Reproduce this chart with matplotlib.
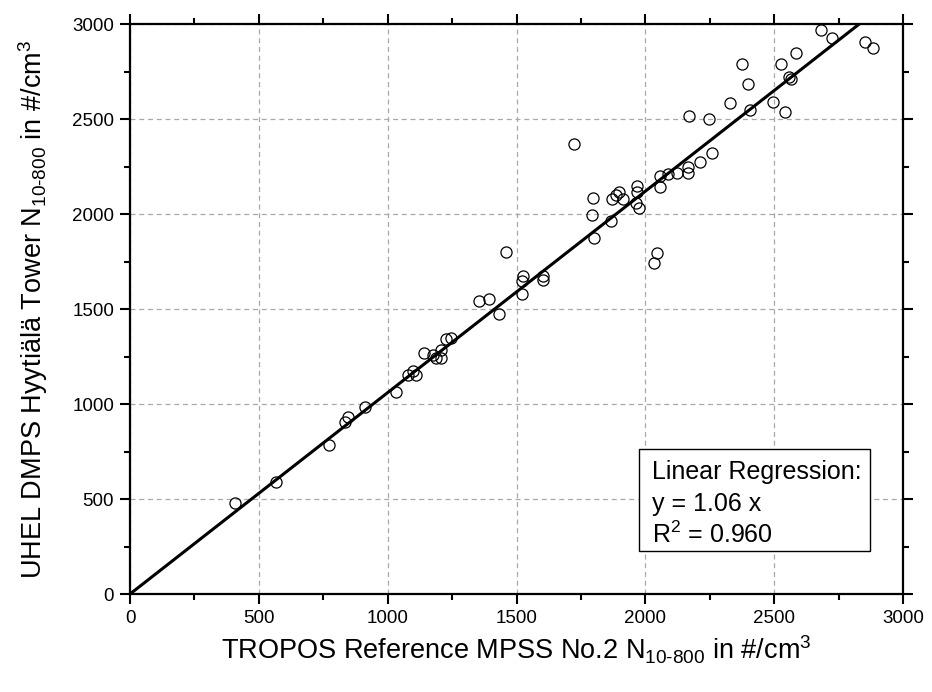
import matplotlib
matplotlib.use("Agg")
import matplotlib.pyplot as plt
import numpy as np
from matplotlib.patches import Rectangle
from matplotlib.ticker import MultipleLocator

plt.rcParams['font.family'] = ['Liberation Sans', 'DejaVu Sans']
plt.rcParams['mathtext.fontset'] = 'custom'
plt.rcParams['mathtext.rm'] = 'Liberation Sans'
plt.rcParams['mathtext.it'] = 'Liberation Sans'
plt.rcParams['mathtext.default'] = 'regular'

# Data
tropos = [408, 568, 772, 836, 845, 913, 1033, 1078, 1100, 1108, 1141, 1175, 1188,
          1207, 1207, 1226, 1246,
          1356, 1393, 1432, 1460, 1523, 1527, 1523, 1604, 1604, 1725, 1797, 1793,
          1799, 1869, 1868, 1897, 1888, 1914, 1969, 1968, 1964, 1975, 2044, 2035,
          2057, 2057, 2088, 2122, 2167, 2167, 2168, 2211, 2247, 2258, 2329, 2377,
          2398, 2405, 2495, 2528, 2543, 2559, 2566, 2583, 2683, 2723, 2852, 2884]
uhel = [480, 588, 785, 905, 931, 984, 1061, 1154, 1172, 1154, 1268, 1256, 1242,
        1286, 1244, 1344, 1349,
        1540, 1553, 1474, 1800, 1579, 1675, 1645, 1672, 1654, 2367, 2083, 1996,
        1873, 2080, 1964, 2118, 2101, 2080, 2150, 2115, 2057, 2034, 1794, 1742,
        2202, 2144, 2209, 2215, 2250, 2215, 2518, 2272, 2498, 2320, 2586, 2787,
        2684, 2547, 2589, 2791, 2535, 2722, 2710, 2845, 2968, 2924, 2903, 2875]
slope = 1.06
r2 = 0.960
xticks = [0, 500, 1000, 1500, 2000, 2500, 3000]
yticks = [0, 500, 1000, 1500, 2000, 2500, 3000]

fig = plt.figure(figsize=(9.32, 6.92), dpi=100)
ax = fig.add_axes([0.1395, 0.1416, 0.8294, 0.8237])

ax.set_xlim(0, 3000)
ax.set_ylim(0, 3000)

ax.grid(True, color='#a8a8a8', linestyle=(0, (4, 3)), linewidth=0.9)
ax.set_axisbelow(True)

xl = np.array([0, 3000])
ax.plot(xl, slope * xl, color='black', linewidth=2.2, zorder=3)

ax.plot(tropos, uhel, linestyle='none', marker='o', markersize=8,
        markerfacecolor='none', markeredgecolor='black', markeredgewidth=0.9, zorder=4)

ax.set_xticks(xticks)
ax.set_yticks(yticks)
ax.xaxis.set_minor_locator(MultipleLocator(250))
ax.yaxis.set_minor_locator(MultipleLocator(250))
ax.tick_params(which='major', direction='out', length=7.5, width=1.5, labelsize=13.5,
               top=True, right=True, labeltop=False, labelright=False, pad=4)
ax.tick_params(which='minor', direction='out', length=4, width=1.5,
               top=True, right=True)
for s in ax.spines.values():
    s.set_linewidth(1.6)

ax.set_xlabel(r'TROPOS Reference MPSS No.2 N$_{\text{10-800}}$ in #/cm$^{3}$',
              fontsize=19.5, labelpad=5)
ax.set_ylabel(r'UHEL DMPS Hyytiälä Tower N$_{\text{10-800}}$ in #/cm$^{3}$',
              fontsize=19.5, labelpad=16)

ax.add_patch(Rectangle((0.6585, 0.0754), 0.2985, 0.179, transform=ax.transAxes,
                       facecolor='white', edgecolor='black', linewidth=1.0, zorder=5))
ax.text(0.6753, 0.2018, 'Linear Regression:', transform=ax.transAxes,
        fontsize=18, va='baseline', ha='left', zorder=6)
ax.text(0.6753, 0.1456, 'y = %.2f x' % slope, transform=ax.transAxes,
        fontsize=18, va='baseline', ha='left', zorder=6)
ax.text(0.6753, 0.0895, r'R$^{2}$ = %.3f' % r2, transform=ax.transAxes,
        fontsize=18, va='baseline', ha='left', zorder=6)

fig.savefig('out.png', dpi=100)
